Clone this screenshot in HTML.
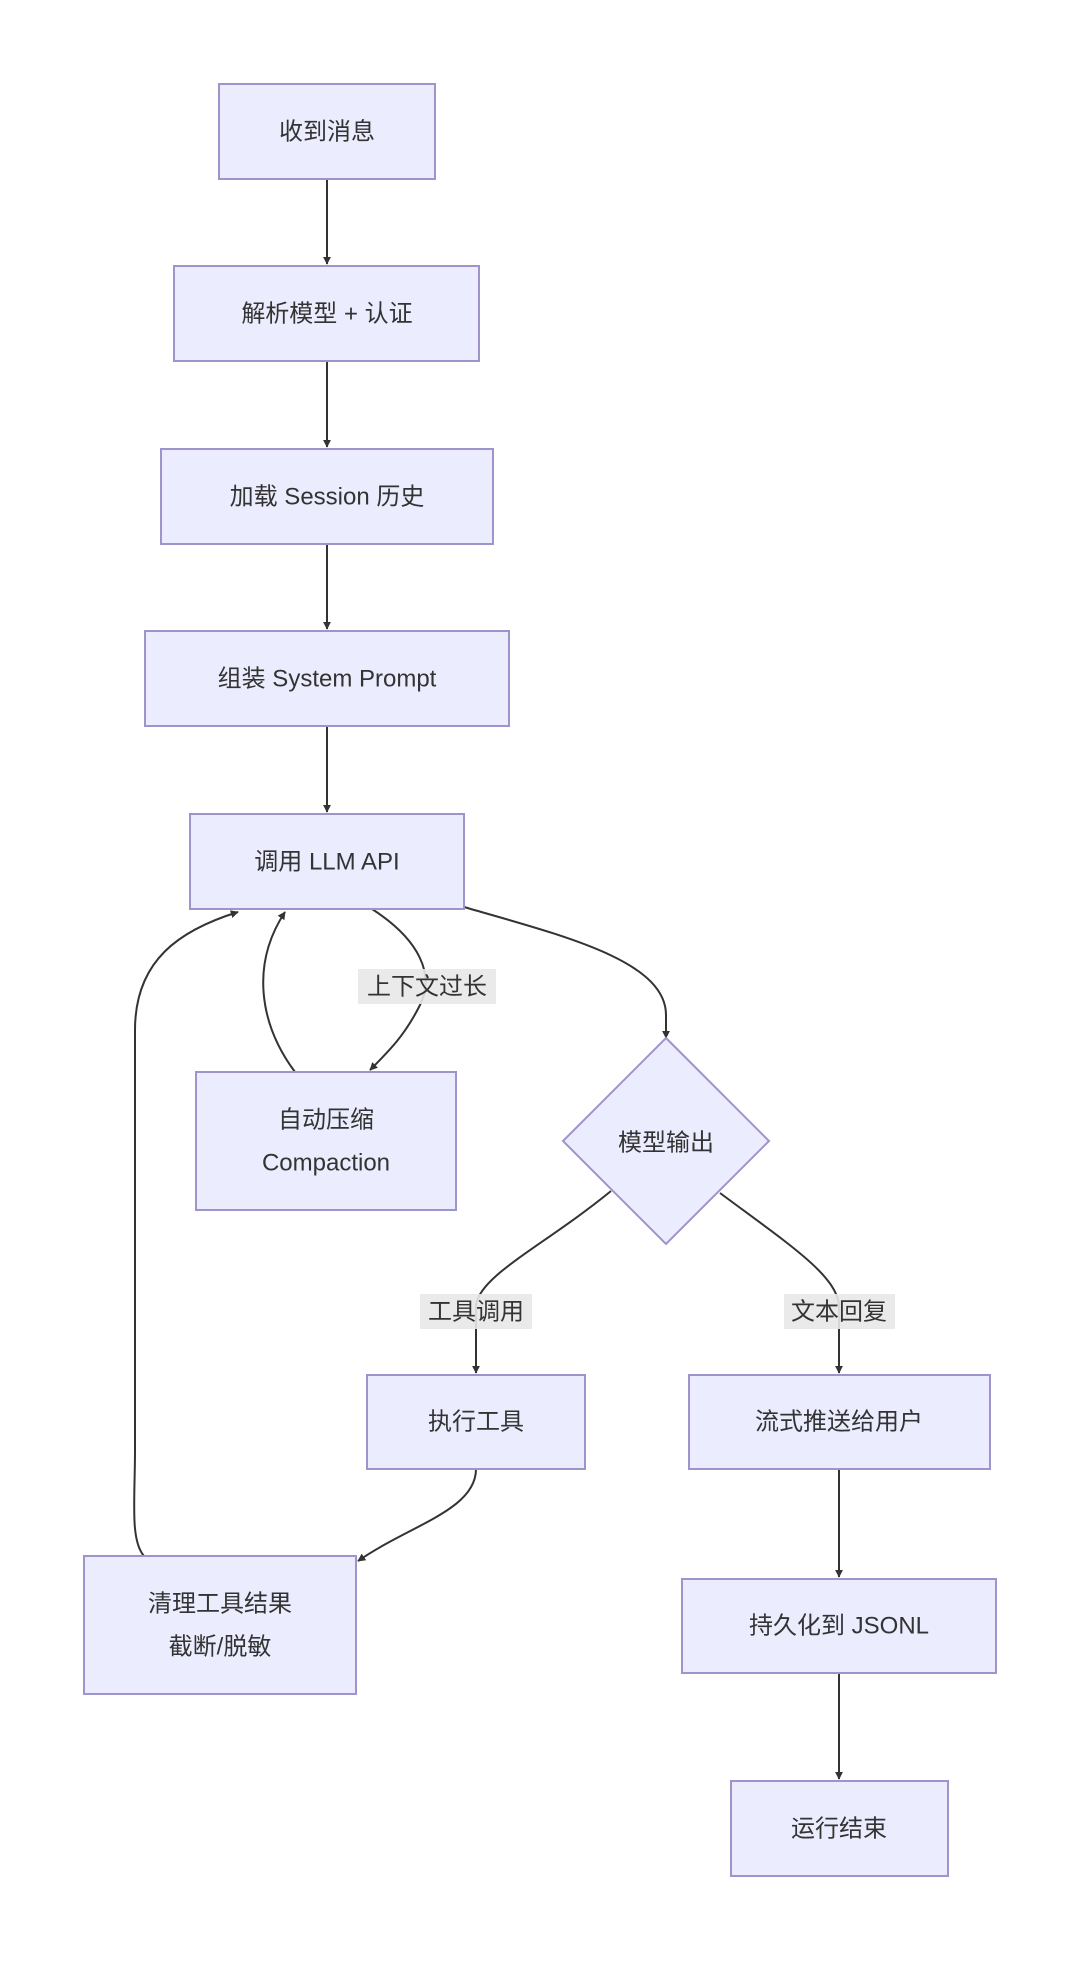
<!DOCTYPE html>
<html><head><meta charset="utf-8"><style>
html,body{margin:0;padding:0;background:#fff;}
svg{display:block;}
text{font-family:"Liberation Sans","Noto Sans CJK SC",sans-serif;font-size:24px;fill:#333;text-anchor:middle;dominant-baseline:central;}
.n{fill:#ECECFF;stroke:#9F93CC;stroke-width:2;}
.e{fill:none;stroke:#333;stroke-width:2;}
.lb{fill:#E8E8E8;opacity:0.9;}
</style></head><body>
<svg width="1080" height="1962" viewBox="0 0 1080 1962" xmlns="http://www.w3.org/2000/svg">
<defs><marker id="a" viewBox="0 0 10 10" refX="9" refY="5" markerWidth="8" markerHeight="8" orient="auto-start-reverse" markerUnits="userSpaceOnUse"><path d="M0,0 L10,5 L0,10 z" fill="#333"/></marker></defs>
<!-- edges -->
<path class="e" d="M327,179 L327,264" marker-end="url(#a)"/>
<path class="e" d="M327,361 L327,447" marker-end="url(#a)"/>
<path class="e" d="M327,544 L327,629" marker-end="url(#a)"/>
<path class="e" d="M327,726 L327,812" marker-end="url(#a)"/>
<path class="e" d="M464,907 C560,935 666,960 666,1015 L666,1038" marker-end="url(#a)"/>
<path class="e" d="M372,909 C420,940 435,975 420,1005 C405,1035 390,1050 370,1070" marker-end="url(#a)"/>
<path class="e" d="M295,1072 C260,1025 250,965 285,912" marker-end="url(#a)"/>
<path class="e" d="M144,1556 C130,1540 135,1500 135,1450 L135,1030 C135,960 180,930 238,912" marker-end="url(#a)"/>
<path class="e" d="M611,1191 C545,1245 480,1275 476,1305 L476,1373" marker-end="url(#a)"/>
<path class="e" d="M720,1193 C790,1245 836,1275 839,1305 L839,1373" marker-end="url(#a)"/>
<path class="e" d="M476,1469 C476,1510 410,1525 358,1561" marker-end="url(#a)"/>
<path class="e" d="M839,1469 L839,1577" marker-end="url(#a)"/>
<path class="e" d="M839,1673 L839,1779" marker-end="url(#a)"/>
<!-- nodes -->
<rect class="n" x="219" y="84" width="216" height="95"/><text x="327" y="132">收到消息</text>
<rect class="n" x="174" y="266" width="305" height="95"/><text x="327" y="314">解析模型 + 认证</text>
<rect class="n" x="161" y="449" width="332" height="95"/><text x="327" y="497">加载 Session 历史</text>
<rect class="n" x="145" y="631" width="364" height="95"/><text x="327" y="679">组装 System Prompt</text>
<rect class="n" x="190" y="814" width="274" height="95"/><text x="327" y="862">调用 LLM API</text>
<rect class="n" x="196" y="1072" width="260" height="138"/><text x="326" y="1120">自动压缩</text><text x="326" y="1163">Compaction</text>
<polygon class="n" points="666,1038 769,1141 666,1244 563,1141"/><text x="666" y="1143">模型输出</text>
<rect class="n" x="367" y="1375" width="218" height="94"/><text x="476" y="1422">执行工具</text>
<rect class="n" x="689" y="1375" width="301" height="94"/><text x="839" y="1422">流式推送给用户</text>
<rect class="n" x="682" y="1579" width="314" height="94"/><text x="839" y="1626">持久化到 JSONL</text>
<rect class="n" x="731" y="1781" width="217" height="95"/><text x="839" y="1829">运行结束</text>
<rect class="n" x="84" y="1556" width="272" height="138"/><text x="220" y="1604">清理工具结果</text><text x="220" y="1647">截断/脱敏</text>
<!-- labels -->
<rect class="lb" x="358" y="969" width="138" height="35"/><text x="427" y="987">上下文过长</text>
<rect class="lb" x="420" y="1294" width="112" height="35"/><text x="476" y="1312">工具调用</text>
<rect class="lb" x="784" y="1294" width="111" height="35"/><text x="839" y="1312">文本回复</text>
</svg>
</body></html>
